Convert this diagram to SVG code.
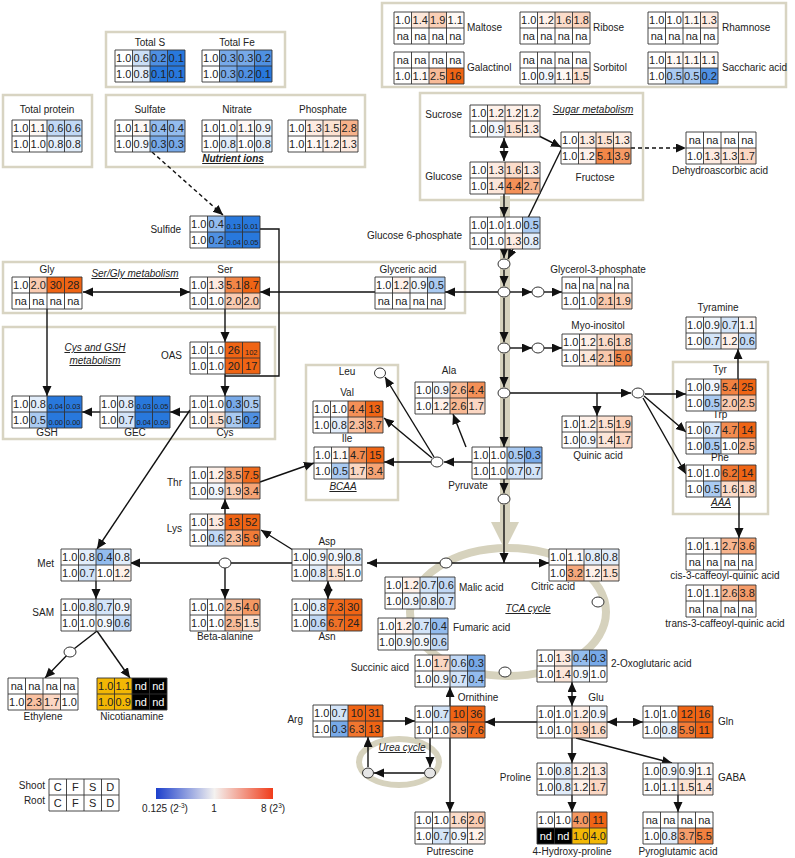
<svg xmlns="http://www.w3.org/2000/svg" xmlns:xlink="http://www.w3.org/1999/xlink" width="795" height="858" viewBox="0 0 795 858">
<style>
text{font-family:"Liberation Sans",Arial,sans-serif;fill:#222}
.v{font-size:11px;text-anchor:middle}
.s{font-size:7.5px}
.l{font-size:10px;text-anchor:middle}
.e{text-anchor:end}
.st{text-anchor:start}
.i{font-style:italic;text-decoration:underline}
.box{fill:#fff;stroke:#d8d4c2;stroke-width:2.5}
.ln{fill:none;stroke:#111;stroke-width:1.4}
.arr{marker-end:url(#ah)}
.dbl{marker-end:url(#ah);marker-start:url(#ah)}
.dash{stroke-dasharray:4 3}
.nd{fill:#fff;stroke:#333;stroke-width:1}
.beige{fill:none;stroke:#d6d2bd}
.w{fill:#fff}
</style>
<defs>
<marker id="ah" markerUnits="userSpaceOnUse" markerWidth="11" markerHeight="10" refX="10" refY="4.5" orient="auto-start-reverse"><path d="M0,0L10,4.5L0,9z" fill="#111"/></marker>
<path id="grid" d="M0,0h70v32h-70z M17.5,0v32 M35,0v32 M52.5,0v32 M0,16h70" fill="none" stroke="#333" stroke-width="0.9"/>
<linearGradient id="cbar" x1="0" x2="1" y1="0" y2="0"><stop offset="0" stop-color="#1c3fcc"/><stop offset="0.5" stop-color="#f4f2f0"/><stop offset="1" stop-color="#f03c1a"/></linearGradient>
</defs>
<rect width="795" height="858" fill="#fff"/>

<!-- boxes -->
<g id="boxes">
<rect class="box" x="106" y="32" width="179" height="55"/>
<rect class="box" x="3" y="95" width="89" height="72"/>
<rect class="box" x="106" y="95" width="259" height="72"/>
<rect class="box" x="382" y="3" width="404" height="84"/>
<rect class="box" x="420" y="93" width="223" height="107"/>
<rect class="box" x="3" y="262" width="462" height="51"/>
<rect class="box" x="3" y="327" width="272" height="112"/>
<rect class="box" x="306" y="365" width="92" height="135"/>
<rect class="box" x="673" y="362" width="95" height="152"/>
</g>

<!-- beige pathways -->
<g id="beige">
<line class="beige" x1="505" y1="196" x2="505" y2="526" stroke-width="10"/>
<path d="M491,522L519,522L505,550z" fill="#d6d2bd"/>
<ellipse class="beige" cx="508" cy="612" rx="98" ry="64" stroke-width="8"/>
<ellipse class="beige" cx="399" cy="762" rx="40" ry="23" stroke-width="6"/>
</g>

<!-- connectors -->
<g id="connectors">
<line class="ln arr dash" x1="152" y1="152" x2="223" y2="215"/>
<line class="ln dbl" x1="504" y1="138" x2="504" y2="161"/>
<line class="ln arr" x1="533" y1="133" x2="561" y2="147"/>
<line class="ln arr dash" x1="631" y1="148" x2="686" y2="148"/>
<line class="ln arr" x1="504" y1="194" x2="504" y2="217"/>
<line class="ln arr" x1="561" y1="150" x2="508" y2="259"/>
<line class="ln arr" x1="504" y1="249" x2="504" y2="258"/>
<line class="ln arr" x1="504" y1="270" x2="504" y2="286"/>
<line class="ln arr" x1="498" y1="292" x2="445" y2="292"/>
<line class="ln arr" x1="510" y1="292" x2="532" y2="292"/>
<line class="ln arr" x1="544" y1="292" x2="562" y2="292"/>
<line class="ln arr" x1="375" y1="292" x2="260" y2="292"/>
<line class="ln dbl" x1="83" y1="292" x2="190" y2="292"/>
<line class="ln arr" x1="225" y1="309" x2="225" y2="342"/>
<polyline class="ln" points="260,229 279,229 279,376 225,376"/>
<line class="ln arr" x1="225" y1="374" x2="225" y2="396"/>
<line class="ln arr" x1="190" y1="412" x2="170" y2="412"/>
<line class="ln arr" x1="100" y1="412" x2="82" y2="412"/>
<line class="ln arr" x1="47" y1="309" x2="47" y2="396"/>
<line class="ln arr" x1="190" y1="410" x2="97" y2="549"/>
<line class="ln arr" x1="504" y1="298" x2="504" y2="342"/>
<line class="ln arr" x1="510" y1="348" x2="532" y2="348"/>
<line class="ln arr" x1="544" y1="348" x2="562" y2="348"/>
<line class="ln arr" x1="504" y1="354" x2="504" y2="387"/>
<line class="ln arr" x1="510" y1="393" x2="631" y2="393"/>
<line class="ln arr" x1="597" y1="393" x2="597" y2="416"/>
<line class="ln arr" x1="645" y1="394" x2="686" y2="394"/>
<line class="ln arr" x1="644" y1="396" x2="686" y2="432"/>
<line class="ln arr" x1="643" y1="398" x2="686" y2="474"/>
<line class="ln arr" x1="738" y1="379" x2="738" y2="349"/>
<line class="ln arr" x1="739" y1="497" x2="739" y2="538"/>
<line class="ln arr" x1="504" y1="399" x2="504" y2="447"/>
<line class="ln arr" x1="472" y1="462" x2="444" y2="462"/>
<line class="ln arr" x1="431" y1="462" x2="384" y2="462"/>
<line class="ln arr" x1="432" y1="458" x2="384" y2="418"/>
<line class="ln arr" x1="434" y1="457" x2="385" y2="377"/>
<line class="ln arr" x1="466" y1="447" x2="453" y2="414"/>
<line class="ln arr" x1="260" y1="482" x2="314" y2="463"/>
<line class="ln arr" x1="225" y1="514" x2="225" y2="499"/>
<line class="ln arr" x1="293" y1="550" x2="261" y2="530"/>
<line class="ln arr" x1="504" y1="479" x2="504" y2="493"/>
<line class="ln arr" x1="504" y1="505" x2="504" y2="563"/>
<line class="ln dbl" x1="367" y1="563" x2="549" y2="563"/>
<line class="ln arr" x1="292" y1="563" x2="130" y2="563"/>
<line class="ln arr" x1="225" y1="563" x2="225" y2="599"/>
<line class="ln dbl" x1="328" y1="581" x2="328" y2="599"/>
<line class="ln arr" x1="96" y1="581" x2="96" y2="599"/>
<polyline class="ln arr" points="97,631 70,652 45,678"/>
<line class="ln arr" x1="97" y1="631" x2="130" y2="678"/>
<line class="ln arr" x1="450" y1="706" x2="450" y2="687"/>
<line class="ln dbl" x1="572" y1="682" x2="572" y2="706"/>
<line class="ln arr" x1="537" y1="722" x2="485" y2="722"/>
<line class="ln dbl" x1="607" y1="722" x2="643" y2="722"/>
<line class="ln arr" x1="383" y1="721" x2="415" y2="721"/>
<line class="ln arr" x1="430" y1="738" x2="430" y2="767"/>
<line class="ln arr" x1="424" y1="773" x2="374" y2="773"/>
<line class="ln arr" x1="368" y1="767" x2="368" y2="737"/>
<line class="ln arr" x1="450" y1="738" x2="450" y2="812"/>
<line class="ln arr" x1="572" y1="738" x2="572" y2="763"/>
<line class="ln arr" x1="576" y1="738" x2="672" y2="763"/>
<line class="ln arr" x1="572" y1="795" x2="572" y2="812"/>
<line class="ln arr" x1="678" y1="795" x2="678" y2="812"/>
</g>

<!-- small nodes -->
<g id="junctions">
<ellipse class="nd" cx="504" cy="264" rx="6" ry="5"/>
<ellipse class="nd" cx="504" cy="292" rx="6" ry="5"/>
<ellipse class="nd" cx="538" cy="292" rx="6" ry="5"/>
<ellipse class="nd" cx="504" cy="348" rx="6" ry="5"/>
<ellipse class="nd" cx="538" cy="348" rx="6" ry="5"/>
<ellipse class="nd" cx="504" cy="393" rx="6" ry="5"/>
<ellipse class="nd" cx="638" cy="393" rx="6" ry="5"/>
<ellipse class="nd" cx="437" cy="462" rx="6" ry="5"/>
<ellipse class="nd" cx="380" cy="373" rx="5.5" ry="5"/>
<ellipse class="nd" cx="504" cy="499" rx="6" ry="5"/>
<ellipse class="nd" cx="446" cy="563" rx="6" ry="5"/>
<ellipse class="nd" cx="598" cy="602" rx="6" ry="5"/>
<ellipse class="nd" cx="505" cy="672" rx="6" ry="5"/>
<ellipse class="nd" cx="225" cy="563" rx="6" ry="5"/>
<ellipse class="nd" cx="70" cy="652" rx="6" ry="5"/>
<ellipse class="nd" cx="368" cy="773" rx="5.5" ry="5" style="fill:#e6e6e6"/>
<ellipse class="nd" cx="430" cy="773" rx="5.5" ry="5" style="fill:#e6e6e6"/>
</g>

<!-- section labels -->
<g id="section-labels">
<text class="l i" x="233" y="162" font-weight="bold" font-size="9.5">Nutrient ions</text>
<text class="l i" x="593" y="113">Sugar metabolism</text>
<text class="l i" x="135" y="277">Ser/Gly metabolism</text>
<text class="l i" x="95" y="351">Cys and GSH</text>
<text class="l i" x="95" y="364">metabolism</text>
<text class="l i" x="343" y="490">BCAA</text>
<text class="l i" x="721" y="506">AAA</text>
<text class="l i" x="528" y="612">TCA cycle</text>
<text class="l i" x="402" y="751">Urea cycle</text>
</g>

<!-- nodes -->
<g id="totalS" transform="translate(115,50)"><rect width="70" height="32" class="w"/><rect x="17.5" width="17.5" height="16" fill="#cadef6"/><rect x="35" width="17.5" height="16" fill="#4f90e2"/><rect x="52.5" width="17.5" height="16" fill="#2878dc"/><rect x="17.5" y="16" width="17.5" height="16" fill="#e2edfa"/><rect x="35" y="16" width="35" height="16" fill="#2878dc"/><use href="#grid"/>
<text class="v" y="12"><tspan x="8.75">1.0</tspan><tspan x="26.25">0.6</tspan><tspan x="43.75">0.2</tspan><tspan x="61.25">0.1</tspan></text><text class="v" y="28"><tspan x="8.75">1.0</tspan><tspan x="26.25">0.8</tspan><tspan x="43.75">0.1</tspan><tspan x="61.25">0.1</tspan></text>
<text class="l" x="35" y="-4">Total S</text></g>

<g id="totalFe" transform="translate(202,50)"><rect width="70" height="32" class="w"/><rect x="17.5" width="35" height="16" fill="#77a9e8"/><rect x="52.5" width="17.5" height="16" fill="#4f90e2"/><rect x="17.5" y="16" width="17.5" height="16" fill="#77a9e8"/><rect x="35" y="16" width="17.5" height="16" fill="#4f90e2"/><rect x="52.5" y="16" width="17.5" height="16" fill="#2878dc"/><use href="#grid"/>
<text class="v" y="12"><tspan x="8.75">1.0</tspan><tspan x="26.25">0.3</tspan><tspan x="43.75">0.3</tspan><tspan x="61.25">0.2</tspan></text><text class="v" y="28"><tspan x="8.75">1.0</tspan><tspan x="26.25">0.3</tspan><tspan x="43.75">0.2</tspan><tspan x="61.25">0.1</tspan></text>
<text class="l" x="35" y="-4">Total Fe</text></g>

<g id="totalProtein" transform="translate(12,120)"><rect width="70" height="32" class="w"/><rect x="17.5" width="17.5" height="16" fill="#fef8f4"/><rect x="35" width="35" height="16" fill="#c1d8f5"/><rect x="35" y="16" width="35" height="16" fill="#e2edfa"/><use href="#grid"/>
<text class="v" y="12"><tspan x="8.75">1.0</tspan><tspan x="26.25">1.1</tspan><tspan x="43.75">0.6</tspan><tspan x="61.25">0.6</tspan></text><text class="v" y="28"><tspan x="8.75">1.0</tspan><tspan x="26.25">1.0</tspan><tspan x="43.75">0.8</tspan><tspan x="61.25">0.8</tspan></text>
<text class="l" x="35" y="-7">Total protein</text></g>

<g id="sulfate" transform="translate(115,120)"><rect width="70" height="32" class="w"/><rect x="17.5" width="17.5" height="16" fill="#fef8f4"/><rect x="35" width="35" height="16" fill="#93bcee"/><rect x="17.5" y="16" width="17.5" height="16" fill="#f1f6fc"/><rect x="35" y="16" width="35" height="16" fill="#77a9e8"/><use href="#grid"/>
<text class="v" y="12"><tspan x="8.75">1.0</tspan><tspan x="26.25">1.1</tspan><tspan x="43.75">0.4</tspan><tspan x="61.25">0.4</tspan></text><text class="v" y="28"><tspan x="8.75">1.0</tspan><tspan x="26.25">0.9</tspan><tspan x="43.75">0.3</tspan><tspan x="61.25">0.3</tspan></text>
<text class="l" x="35" y="-7">Sulfate</text></g>

<g id="nitrate" transform="translate(202,120)"><rect width="70" height="32" class="w"/><rect x="35" width="17.5" height="16" fill="#fef8f4"/><rect x="52.5" width="17.5" height="16" fill="#f1f6fc"/><rect x="17.5" y="16" width="17.5" height="16" fill="#e2edfa"/><rect x="52.5" y="16" width="17.5" height="16" fill="#e2edfa"/><use href="#grid"/>
<text class="v" y="12"><tspan x="8.75">1.0</tspan><tspan x="26.25">1.0</tspan><tspan x="43.75">1.1</tspan><tspan x="61.25">0.9</tspan></text><text class="v" y="28"><tspan x="8.75">1.0</tspan><tspan x="26.25">0.8</tspan><tspan x="43.75">1.0</tspan><tspan x="61.25">0.8</tspan></text>
<text class="l" x="35" y="-7">Nitrate</text></g>

<g id="phosphate" transform="translate(288,120)"><rect width="70" height="32" class="w"/><rect x="17.5" width="17.5" height="16" fill="#fdebe1"/><rect x="35" width="17.5" height="16" fill="#fce1d1"/><rect x="52.5" width="17.5" height="16" fill="#f7b28b"/><rect x="17.5" y="16" width="17.5" height="16" fill="#fef8f4"/><rect x="35" y="16" width="17.5" height="16" fill="#fef1ea"/><rect x="52.5" y="16" width="17.5" height="16" fill="#fdebe1"/><use href="#grid"/>
<text class="v" y="12"><tspan x="8.75">1.0</tspan><tspan x="26.25">1.3</tspan><tspan x="43.75">1.5</tspan><tspan x="61.25">2.8</tspan></text><text class="v" y="28"><tspan x="8.75">1.0</tspan><tspan x="26.25">1.1</tspan><tspan x="43.75">1.2</tspan><tspan x="61.25">1.3</tspan></text>
<text class="l" x="35" y="-7">Phosphate</text></g>

<g id="maltose" transform="translate(394,12)"><rect width="70" height="32" class="w"/><rect x="17.5" width="17.5" height="16" fill="#fce6d9"/><rect x="35" width="17.5" height="16" fill="#facfb6"/><rect x="52.5" width="17.5" height="16" fill="#fef8f4"/><use href="#grid"/>
<text class="v" y="12"><tspan x="8.75">1.0</tspan><tspan x="26.25">1.4</tspan><tspan x="43.75">1.9</tspan><tspan x="61.25">1.1</tspan></text><text class="v" y="28"><tspan x="8.75">na</tspan><tspan x="26.25">na</tspan><tspan x="43.75">na</tspan><tspan x="61.25">na</tspan></text>
<text class="l st" x="73" y="19">Maltose</text></g>

<g id="ribose" transform="translate(520,12)"><rect width="70" height="32" class="w"/><rect x="17.5" width="17.5" height="16" fill="#fef1ea"/><rect x="35" width="17.5" height="16" fill="#fbdcca"/><rect x="52.5" width="17.5" height="16" fill="#fad3bd"/><use href="#grid"/>
<text class="v" y="12"><tspan x="8.75">1.0</tspan><tspan x="26.25">1.2</tspan><tspan x="43.75">1.6</tspan><tspan x="61.25">1.8</tspan></text><text class="v" y="28"><tspan x="8.75">na</tspan><tspan x="26.25">na</tspan><tspan x="43.75">na</tspan><tspan x="61.25">na</tspan></text>
<text class="l st" x="73" y="19">Ribose</text></g>

<g id="rhamnose" transform="translate(648,12)"><rect width="70" height="32" class="w"/><rect x="35" width="17.5" height="16" fill="#fef8f4"/><rect x="52.5" width="17.5" height="16" fill="#fdebe1"/><use href="#grid"/>
<text class="v" y="12"><tspan x="8.75">1.0</tspan><tspan x="26.25">1.0</tspan><tspan x="43.75">1.1</tspan><tspan x="61.25">1.3</tspan></text><text class="v" y="28"><tspan x="8.75">na</tspan><tspan x="26.25">na</tspan><tspan x="43.75">na</tspan><tspan x="61.25">na</tspan></text>
<text class="l st" x="74" y="19">Rhamnose</text></g>

<g id="galactinol" transform="translate(394,52)"><rect width="70" height="32" class="w"/><rect x="17.5" y="16" width="17.5" height="16" fill="#fef8f4"/><rect x="35" y="16" width="17.5" height="16" fill="#f8bb98"/><rect x="52.5" y="16" width="17.5" height="16" fill="#ef6414"/><use href="#grid"/>
<text class="v" y="12"><tspan x="8.75">na</tspan><tspan x="26.25">na</tspan><tspan x="43.75">na</tspan><tspan x="61.25">na</tspan></text><text class="v" y="28"><tspan x="8.75">1.0</tspan><tspan x="26.25">1.1</tspan><tspan x="43.75">2.5</tspan><tspan x="61.25">16</tspan></text>
<text class="l st" x="73" y="19">Galactinol</text></g>

<g id="sorbitol" transform="translate(520,52)"><rect width="70" height="32" class="w"/><rect x="17.5" y="16" width="17.5" height="16" fill="#f1f6fc"/><rect x="35" y="16" width="17.5" height="16" fill="#fef8f4"/><rect x="52.5" y="16" width="17.5" height="16" fill="#fce1d1"/><use href="#grid"/>
<text class="v" y="12"><tspan x="8.75">na</tspan><tspan x="26.25">na</tspan><tspan x="43.75">na</tspan><tspan x="61.25">na</tspan></text><text class="v" y="28"><tspan x="8.75">1.0</tspan><tspan x="26.25">0.9</tspan><tspan x="43.75">1.1</tspan><tspan x="61.25">1.5</tspan></text>
<text class="l st" x="73" y="19">Sorbitol</text></g>

<g id="saccharic" transform="translate(648,52)"><rect width="70" height="32" class="w"/><rect x="17.5" width="52.5" height="16" fill="#fef8f4"/><rect x="17.5" y="16" width="35" height="16" fill="#aacaf1"/><rect x="52.5" y="16" width="17.5" height="16" fill="#4f90e2"/><use href="#grid"/>
<text class="v" y="12"><tspan x="8.75">1.0</tspan><tspan x="26.25">1.1</tspan><tspan x="43.75">1.1</tspan><tspan x="61.25">1.1</tspan></text><text class="v" y="28"><tspan x="8.75">1.0</tspan><tspan x="26.25">0.5</tspan><tspan x="43.75">0.5</tspan><tspan x="61.25">0.2</tspan></text>
<text class="l st" x="74" y="19">Saccharic acid</text></g>

<g id="sucrose" transform="translate(470,105)"><rect width="70" height="32" class="w"/><rect x="17.5" width="52.5" height="16" fill="#fef1ea"/><rect x="17.5" y="16" width="17.5" height="16" fill="#f1f6fc"/><rect x="35" y="16" width="17.5" height="16" fill="#fce1d1"/><rect x="52.5" y="16" width="17.5" height="16" fill="#fdebe1"/><use href="#grid"/>
<text class="v" y="12"><tspan x="8.75">1.0</tspan><tspan x="26.25">1.2</tspan><tspan x="43.75">1.2</tspan><tspan x="61.25">1.2</tspan></text><text class="v" y="28"><tspan x="8.75">1.0</tspan><tspan x="26.25">0.9</tspan><tspan x="43.75">1.5</tspan><tspan x="61.25">1.3</tspan></text>
<text class="l e" x="-8" y="13">Sucrose</text></g>

<g id="glucose" transform="translate(470,162)"><rect width="70" height="32" class="w"/><rect x="17.5" width="17.5" height="16" fill="#fdebe1"/><rect x="35" width="17.5" height="16" fill="#fbdcca"/><rect x="52.5" width="17.5" height="16" fill="#fdebe1"/><rect x="17.5" y="16" width="17.5" height="16" fill="#fce6d9"/><rect x="35" y="16" width="17.5" height="16" fill="#f49057"/><rect x="52.5" y="16" width="17.5" height="16" fill="#f7b58f"/><use href="#grid"/>
<text class="v" y="12"><tspan x="8.75">1.0</tspan><tspan x="26.25">1.3</tspan><tspan x="43.75">1.6</tspan><tspan x="61.25">1.3</tspan></text><text class="v" y="28"><tspan x="8.75">1.0</tspan><tspan x="26.25">1.4</tspan><tspan x="43.75">4.4</tspan><tspan x="61.25">2.7</tspan></text>
<text class="l e" x="-8" y="18">Glucose</text></g>

<g id="fructose" transform="translate(561,132)"><rect width="70" height="32" class="w"/><rect x="17.5" width="17.5" height="16" fill="#fdebe1"/><rect x="35" width="17.5" height="16" fill="#fce1d1"/><rect x="52.5" width="17.5" height="16" fill="#fdebe1"/><rect x="17.5" y="16" width="17.5" height="16" fill="#fef1ea"/><rect x="35" y="16" width="17.5" height="16" fill="#f28647"/><rect x="52.5" y="16" width="17.5" height="16" fill="#f59a65"/><use href="#grid"/>
<text class="v" y="12"><tspan x="8.75">1.0</tspan><tspan x="26.25">1.3</tspan><tspan x="43.75">1.5</tspan><tspan x="61.25">1.3</tspan></text><text class="v" y="28"><tspan x="8.75">1.0</tspan><tspan x="26.25">1.2</tspan><tspan x="43.75">5.1</tspan><tspan x="61.25">3.9</tspan></text>
<text class="l" x="34" y="49">Fructose</text></g>

<g id="dehydroascorbic" transform="translate(686,132)"><rect width="70" height="32" class="w"/><rect x="17.5" y="16" width="35" height="16" fill="#fdebe1"/><rect x="52.5" y="16" width="17.5" height="16" fill="#fbd7c3"/><use href="#grid"/>
<text class="v" y="12"><tspan x="8.75">na</tspan><tspan x="26.25">na</tspan><tspan x="43.75">na</tspan><tspan x="61.25">na</tspan></text><text class="v" y="28"><tspan x="8.75">1.0</tspan><tspan x="26.25">1.3</tspan><tspan x="43.75">1.3</tspan><tspan x="61.25">1.7</tspan></text>
<text class="l" x="34" y="42">Dehydroascorbic acid</text></g>

<g id="g6p" transform="translate(470,217)"><rect width="70" height="32" class="w"/><rect x="52.5" width="17.5" height="16" fill="#aacaf1"/><rect x="35" y="16" width="17.5" height="16" fill="#fdebe1"/><rect x="52.5" y="16" width="17.5" height="16" fill="#e2edfa"/><use href="#grid"/>
<text class="v" y="12"><tspan x="8.75">1.0</tspan><tspan x="26.25">1.0</tspan><tspan x="43.75">1.0</tspan><tspan x="61.25">0.5</tspan></text><text class="v" y="28"><tspan x="8.75">1.0</tspan><tspan x="26.25">1.0</tspan><tspan x="43.75">1.3</tspan><tspan x="61.25">0.8</tspan></text>
<text class="l e" x="-8" y="22">Glucose 6-phosphate</text></g>

<g id="sulfide" transform="translate(190,216)"><rect width="70" height="32" class="w"/><rect x="17.5" width="17.5" height="16" fill="#93bcee"/><rect x="35" width="35" height="16" fill="#2878dc"/><rect x="17.5" y="16" width="17.5" height="16" fill="#4f90e2"/><rect x="35" y="16" width="35" height="16" fill="#2878dc"/><use href="#grid"/>
<text class="v" y="12"><tspan x="8.75">1.0</tspan><tspan x="26.25">0.4</tspan><tspan class="s" x="43.75" y="12.5">0.13</tspan><tspan class="s" x="61.25">0.01</tspan></text><text class="v" y="28"><tspan x="8.75">1.0</tspan><tspan x="26.25">0.2</tspan><tspan class="s" x="43.75" y="28.5">0.04</tspan><tspan class="s" x="61.25">0.05</tspan></text>
<text class="l e" x="-9" y="17">Sulfide</text></g>

<g id="gly" transform="translate(12,277)"><rect width="70" height="32" class="w"/><rect x="17.5" width="17.5" height="16" fill="#facbb1"/><rect x="35" width="35" height="16" fill="#ef6414"/><use href="#grid"/>
<text class="v" y="12"><tspan x="8.75">1.0</tspan><tspan x="26.25">2.0</tspan><tspan x="43.75">30</tspan><tspan x="61.25">28</tspan></text><text class="v" y="28"><tspan x="8.75">na</tspan><tspan x="26.25">na</tspan><tspan x="43.75">na</tspan><tspan x="61.25">na</tspan></text>
<text class="l" x="35" y="-4">Gly</text></g>

<g id="ser" transform="translate(190,277)"><rect width="70" height="32" class="w"/><rect x="17.5" width="17.5" height="16" fill="#fdebe1"/><rect x="35" width="17.5" height="16" fill="#f28647"/><rect x="52.5" width="17.5" height="16" fill="#ef6414"/><rect x="35" y="16" width="35" height="16" fill="#facbb1"/><use href="#grid"/>
<text class="v" y="12"><tspan x="8.75">1.0</tspan><tspan x="26.25">1.3</tspan><tspan x="43.75">5.1</tspan><tspan x="61.25">8.7</tspan></text><text class="v" y="28"><tspan x="8.75">1.0</tspan><tspan x="26.25">1.0</tspan><tspan x="43.75">2.0</tspan><tspan x="61.25">2.0</tspan></text>
<text class="l" x="35" y="-4">Ser</text></g>

<g id="glyceric" transform="translate(375,277)"><rect width="70" height="32" class="w"/><rect x="17.5" width="17.5" height="16" fill="#fef1ea"/><rect x="35" width="17.5" height="16" fill="#f1f6fc"/><rect x="52.5" width="17.5" height="16" fill="#aacaf1"/><use href="#grid"/>
<text class="v" y="12"><tspan x="8.75">1.0</tspan><tspan x="26.25">1.2</tspan><tspan x="43.75">0.9</tspan><tspan x="61.25">0.5</tspan></text><text class="v" y="28"><tspan x="8.75">na</tspan><tspan x="26.25">na</tspan><tspan x="43.75">na</tspan><tspan x="61.25">na</tspan></text>
<text class="l" x="33" y="-4">Glyceric acid</text></g>

<g id="oas" transform="translate(190,342)"><rect width="70" height="32" class="w"/><rect x="35" width="35" height="32" fill="#ef6414"/><use href="#grid"/>
<text class="v" y="12"><tspan x="8.75">1.0</tspan><tspan x="26.25">1.0</tspan><tspan x="43.75">26</tspan><tspan class="s" x="61.25" y="12.5">102</tspan></text><text class="v" y="28"><tspan x="8.75">1.0</tspan><tspan x="26.25">1.0</tspan><tspan x="43.75">20</tspan><tspan x="61.25">17</tspan></text>
<text class="l e" x="-8" y="17">OAS</text></g>

<g id="gsh" transform="translate(12,396)"><rect width="70" height="32" class="w"/><rect x="17.5" width="17.5" height="16" fill="#e2edfa"/><rect x="35" width="35" height="32" fill="#2878dc"/><rect x="17.5" y="16" width="17.5" height="16" fill="#aacaf1"/><use href="#grid"/>
<text class="v" y="12"><tspan x="8.75">1.0</tspan><tspan x="26.25">0.8</tspan><tspan class="s" x="43.75" y="12.5">0.04</tspan><tspan class="s" x="61.25">0.03</tspan></text><text class="v" y="28"><tspan x="8.75">1.0</tspan><tspan x="26.25">0.5</tspan><tspan class="s" x="43.75" y="28.5">0.00</tspan><tspan class="s" x="61.25">0.00</tspan></text>
<text class="l" x="35" y="40">GSH</text></g>

<g id="gec" transform="translate(100,396)"><rect width="70" height="32" class="w"/><rect x="17.5" width="17.5" height="16" fill="#e2edfa"/><rect x="35" width="35" height="32" fill="#2878dc"/><rect x="17.5" y="16" width="17.5" height="16" fill="#d3e4f8"/><use href="#grid"/>
<text class="v" y="12"><tspan x="8.75">1.0</tspan><tspan x="26.25">0.8</tspan><tspan class="s" x="43.75" y="12.5">0.03</tspan><tspan class="s" x="61.25">0.05</tspan></text><text class="v" y="28"><tspan x="8.75">1.0</tspan><tspan x="26.25">0.7</tspan><tspan class="s" x="43.75" y="28.5">0.04</tspan><tspan class="s" x="61.25">0.09</tspan></text>
<text class="l" x="35" y="40">GEC</text></g>

<g id="cys" transform="translate(190,396)"><rect width="70" height="32" class="w"/><rect x="35" width="17.5" height="16" fill="#77a9e8"/><rect x="52.5" width="17.5" height="16" fill="#aacaf1"/><rect x="17.5" y="16" width="17.5" height="16" fill="#fce1d1"/><rect x="35" y="16" width="17.5" height="16" fill="#aacaf1"/><rect x="52.5" y="16" width="17.5" height="16" fill="#4f90e2"/><use href="#grid"/>
<text class="v" y="12"><tspan x="8.75">1.0</tspan><tspan x="26.25">1.0</tspan><tspan x="43.75">0.3</tspan><tspan x="61.25">0.5</tspan></text><text class="v" y="28"><tspan x="8.75">1.0</tspan><tspan x="26.25">1.5</tspan><tspan x="43.75">0.5</tspan><tspan x="61.25">0.2</tspan></text>
<text class="l" x="35" y="40">Cys</text></g>

<g id="g3p" transform="translate(562,277)"><rect width="70" height="32" class="w"/><rect x="35" y="16" width="17.5" height="16" fill="#f9c8ab"/><rect x="52.5" y="16" width="17.5" height="16" fill="#facfb6"/><use href="#grid"/>
<text class="v" y="12"><tspan x="8.75">na</tspan><tspan x="26.25">na</tspan><tspan x="43.75">na</tspan><tspan x="61.25">na</tspan></text><text class="v" y="28"><tspan x="8.75">1.0</tspan><tspan x="26.25">1.0</tspan><tspan x="43.75">2.1</tspan><tspan x="61.25">1.9</tspan></text>
<text class="l" x="36" y="-4">Glycerol-3-phosphate</text></g>

<g id="myoinositol" transform="translate(562,334)"><rect width="70" height="32" class="w"/><rect x="17.5" width="17.5" height="16" fill="#fef1ea"/><rect x="35" width="17.5" height="16" fill="#fbdcca"/><rect x="52.5" width="17.5" height="16" fill="#fad3bd"/><rect x="17.5" y="16" width="17.5" height="16" fill="#fce6d9"/><rect x="35" y="16" width="17.5" height="16" fill="#f9c8ab"/><rect x="52.5" y="16" width="17.5" height="16" fill="#f38749"/><use href="#grid"/>
<text class="v" y="12"><tspan x="8.75">1.0</tspan><tspan x="26.25">1.2</tspan><tspan x="43.75">1.6</tspan><tspan x="61.25">1.8</tspan></text><text class="v" y="28"><tspan x="8.75">1.0</tspan><tspan x="26.25">1.4</tspan><tspan x="43.75">2.1</tspan><tspan x="61.25">5.0</tspan></text>
<text class="l" x="36" y="-5">Myo-inositol</text></g>

<g id="ala" transform="translate(415,382)"><rect width="70" height="32" class="w"/><rect x="17.5" width="17.5" height="16" fill="#f1f6fc"/><rect x="35" width="17.5" height="16" fill="#f8b893"/><rect x="52.5" width="17.5" height="16" fill="#f49057"/><rect x="17.5" y="16" width="17.5" height="16" fill="#fef1ea"/><rect x="35" y="16" width="17.5" height="16" fill="#f8b893"/><rect x="52.5" y="16" width="17.5" height="16" fill="#fbd7c3"/><use href="#grid"/>
<text class="v" y="12"><tspan x="8.75">1.0</tspan><tspan x="26.25">0.9</tspan><tspan x="43.75">2.6</tspan><tspan x="61.25">4.4</tspan></text><text class="v" y="28"><tspan x="8.75">1.0</tspan><tspan x="26.25">1.2</tspan><tspan x="43.75">2.6</tspan><tspan x="61.25">1.7</tspan></text>
<text class="l" x="34" y="-8">Ala</text></g>

<g id="leu"><text class="l" x="347" y="375">Leu</text></g>

<g id="val" transform="translate(313,401)"><rect width="70" height="32" class="w"/><rect x="35" width="17.5" height="16" fill="#f49057"/><rect x="52.5" width="17.5" height="16" fill="#ef6414"/><rect x="17.5" y="16" width="17.5" height="16" fill="#e2edfa"/><rect x="35" y="16" width="17.5" height="16" fill="#f9c1a1"/><rect x="52.5" y="16" width="17.5" height="16" fill="#f59d6b"/><use href="#grid"/>
<text class="v" y="12"><tspan x="8.75">1.0</tspan><tspan x="26.25">1.0</tspan><tspan x="43.75">4.4</tspan><tspan x="61.25">13</tspan></text><text class="v" y="28"><tspan x="8.75">1.0</tspan><tspan x="26.25">0.8</tspan><tspan x="43.75">2.3</tspan><tspan x="61.25">3.7</tspan></text>
<text class="l" x="34" y="-5">Val</text></g>

<g id="ile" transform="translate(314,447)"><rect width="70" height="32" class="w"/><rect x="17.5" width="17.5" height="16" fill="#fef8f4"/><rect x="35" width="17.5" height="16" fill="#f38c50"/><rect x="52.5" width="17.5" height="16" fill="#ef6414"/><rect x="17.5" y="16" width="17.5" height="16" fill="#aacaf1"/><rect x="35" y="16" width="17.5" height="16" fill="#fbd7c3"/><rect x="52.5" y="16" width="17.5" height="16" fill="#f6a475"/><use href="#grid"/>
<text class="v" y="12"><tspan x="8.75">1.0</tspan><tspan x="26.25">1.1</tspan><tspan x="43.75">4.7</tspan><tspan x="61.25">15</tspan></text><text class="v" y="28"><tspan x="8.75">1.0</tspan><tspan x="26.25">0.5</tspan><tspan x="43.75">1.7</tspan><tspan x="61.25">3.4</tspan></text>
<text class="l" x="33" y="-5">Ile</text></g>

<g id="quinic" transform="translate(562,416)"><rect width="70" height="32" class="w"/><rect x="17.5" width="17.5" height="16" fill="#fef1ea"/><rect x="35" width="17.5" height="16" fill="#fce1d1"/><rect x="52.5" width="17.5" height="16" fill="#facfb6"/><rect x="17.5" y="16" width="17.5" height="16" fill="#f1f6fc"/><rect x="35" y="16" width="17.5" height="16" fill="#fce6d9"/><rect x="52.5" y="16" width="17.5" height="16" fill="#fbd7c3"/><use href="#grid"/>
<text class="v" y="12"><tspan x="8.75">1.0</tspan><tspan x="26.25">1.2</tspan><tspan x="43.75">1.5</tspan><tspan x="61.25">1.9</tspan></text><text class="v" y="28"><tspan x="8.75">1.0</tspan><tspan x="26.25">0.9</tspan><tspan x="43.75">1.4</tspan><tspan x="61.25">1.7</tspan></text>
<text class="l" x="36" y="43">Quinic acid</text></g>

<g id="tyramine" transform="translate(686,317)"><rect width="70" height="32" class="w"/><rect x="17.5" width="17.5" height="16" fill="#f1f6fc"/><rect x="35" width="17.5" height="16" fill="#d3e4f8"/><rect x="52.5" width="17.5" height="16" fill="#fef8f4"/><rect x="17.5" y="16" width="17.5" height="16" fill="#d3e4f8"/><rect x="35" y="16" width="17.5" height="16" fill="#fef1ea"/><rect x="52.5" y="16" width="17.5" height="16" fill="#c1d8f5"/><use href="#grid"/>
<text class="v" y="12"><tspan x="8.75">1.0</tspan><tspan x="26.25">0.9</tspan><tspan x="43.75">0.7</tspan><tspan x="61.25">1.1</tspan></text><text class="v" y="28"><tspan x="8.75">1.0</tspan><tspan x="26.25">0.7</tspan><tspan x="43.75">1.2</tspan><tspan x="61.25">0.6</tspan></text>
<text class="l" x="32" y="-6">Tyramine</text></g>

<g id="trp-label"><text class="l" x="720" y="418">Trp</text></g>

<g id="tyr" transform="translate(686,379)"><rect width="70" height="32" class="w"/><rect x="17.5" width="17.5" height="16" fill="#f1f6fc"/><rect x="35" width="17.5" height="16" fill="#f28140"/><rect x="52.5" width="17.5" height="16" fill="#ef6414"/><rect x="17.5" y="16" width="17.5" height="16" fill="#aacaf1"/><rect x="35" y="16" width="17.5" height="16" fill="#facbb1"/><rect x="52.5" y="16" width="17.5" height="16" fill="#f8bb98"/><use href="#grid"/>
<text class="v" y="12"><tspan x="8.75">1.0</tspan><tspan x="26.25">0.9</tspan><tspan x="43.75">5.4</tspan><tspan x="61.25">25</tspan></text><text class="v" y="28"><tspan x="8.75">1.0</tspan><tspan x="26.25">0.5</tspan><tspan x="43.75">2.0</tspan><tspan x="61.25">2.5</tspan></text>
<text class="l" x="34" y="-6">Tyr</text></g>

<g id="trp" transform="translate(686,422)"><rect width="70" height="32" class="w"/><rect x="17.5" width="17.5" height="16" fill="#d3e4f8"/><rect x="35" width="17.5" height="16" fill="#f38c50"/><rect x="52.5" width="17.5" height="16" fill="#ef6414"/><rect x="17.5" y="16" width="17.5" height="16" fill="#aacaf1"/><rect x="52.5" y="16" width="17.5" height="16" fill="#f8bb98"/><use href="#grid"/>
<text class="v" y="12"><tspan x="8.75">1.0</tspan><tspan x="26.25">0.7</tspan><tspan x="43.75">4.7</tspan><tspan x="61.25">14</tspan></text><text class="v" y="28"><tspan x="8.75">1.0</tspan><tspan x="26.25">0.5</tspan><tspan x="43.75">1.0</tspan><tspan x="61.25">2.5</tspan></text></g>

<g id="phe" transform="translate(686,465)"><rect width="70" height="32" class="w"/><rect x="35" width="17.5" height="16" fill="#f17731"/><rect x="52.5" width="17.5" height="16" fill="#ef6414"/><rect x="17.5" y="16" width="17.5" height="16" fill="#aacaf1"/><rect x="35" y="16" width="17.5" height="16" fill="#fbdcca"/><rect x="52.5" y="16" width="17.5" height="16" fill="#fad3bd"/><use href="#grid"/>
<text class="v" y="12"><tspan x="8.75">1.0</tspan><tspan x="26.25">1.0</tspan><tspan x="43.75">6.2</tspan><tspan x="61.25">14</tspan></text><text class="v" y="28"><tspan x="8.75">1.0</tspan><tspan x="26.25">0.5</tspan><tspan x="43.75">1.6</tspan><tspan x="61.25">1.8</tspan></text>
<text class="l" x="34" y="-4">Phe</text></g>

<g id="thr" transform="translate(190,467)"><rect width="70" height="32" class="w"/><rect x="17.5" width="17.5" height="16" fill="#fef1ea"/><rect x="35" width="17.5" height="16" fill="#f5a272"/><rect x="52.5" width="17.5" height="16" fill="#ef691b"/><rect x="17.5" y="16" width="17.5" height="16" fill="#f1f6fc"/><rect x="35" y="16" width="17.5" height="16" fill="#facfb6"/><rect x="52.5" y="16" width="17.5" height="16" fill="#f6a475"/><use href="#grid"/>
<text class="v" y="12"><tspan x="8.75">1.0</tspan><tspan x="26.25">1.2</tspan><tspan x="43.75">3.5</tspan><tspan x="61.25">7.5</tspan></text><text class="v" y="28"><tspan x="8.75">1.0</tspan><tspan x="26.25">0.9</tspan><tspan x="43.75">1.9</tspan><tspan x="61.25">3.4</tspan></text>
<text class="l e" x="-8" y="19">Thr</text></g>

<g id="lys" transform="translate(190,514)"><rect width="70" height="32" class="w"/><rect x="17.5" width="17.5" height="16" fill="#fdebe1"/><rect x="35" width="35" height="16" fill="#ef6414"/><rect x="17.5" y="16" width="17.5" height="16" fill="#c1d8f5"/><rect x="35" y="16" width="17.5" height="16" fill="#f9c1a1"/><rect x="52.5" y="16" width="17.5" height="16" fill="#f17b37"/><use href="#grid"/>
<text class="v" y="12"><tspan x="8.75">1.0</tspan><tspan x="26.25">1.3</tspan><tspan x="43.75">13</tspan><tspan x="61.25">52</tspan></text><text class="v" y="28"><tspan x="8.75">1.0</tspan><tspan x="26.25">0.6</tspan><tspan x="43.75">2.3</tspan><tspan x="61.25">5.9</tspan></text>
<text class="l e" x="-8" y="18">Lys</text></g>

<g id="pyruvate" transform="translate(472,447)"><rect width="70" height="32" class="w"/><rect x="35" width="17.5" height="16" fill="#aacaf1"/><rect x="52.5" width="17.5" height="16" fill="#77a9e8"/><rect x="35" y="16" width="35" height="16" fill="#d3e4f8"/><use href="#grid"/>
<text class="v" y="12"><tspan x="8.75">1.0</tspan><tspan x="26.25">1.0</tspan><tspan x="43.75">0.5</tspan><tspan x="61.25">0.3</tspan></text><text class="v" y="28"><tspan x="8.75">1.0</tspan><tspan x="26.25">1.0</tspan><tspan x="43.75">0.7</tspan><tspan x="61.25">0.7</tspan></text>
<text class="l" x="-4" y="42">Pyruvate</text></g>

<g id="cis-caffeoyl" transform="translate(686,538)"><rect width="70" height="32" class="w"/><rect x="17.5" width="17.5" height="16" fill="#fef8f4"/><rect x="35" width="17.5" height="16" fill="#f7b58f"/><rect x="52.5" width="17.5" height="16" fill="#f5a06e"/><use href="#grid"/>
<text class="v" y="12"><tspan x="8.75">1.0</tspan><tspan x="26.25">1.1</tspan><tspan x="43.75">2.7</tspan><tspan x="61.25">3.6</tspan></text><text class="v" y="28"><tspan x="8.75">na</tspan><tspan x="26.25">na</tspan><tspan x="43.75">na</tspan><tspan x="61.25">na</tspan></text>
<text class="l" x="39" y="41">cis-3-caffeoyl-quinic acid</text></g>

<g id="trans-caffeoyl" transform="translate(686,585)"><rect width="70" height="32" class="w"/><rect x="17.5" width="17.5" height="16" fill="#fef8f4"/><rect x="35" width="17.5" height="16" fill="#f8b893"/><rect x="52.5" width="17.5" height="16" fill="#f59b68"/><use href="#grid"/>
<text class="v" y="12"><tspan x="8.75">1.0</tspan><tspan x="26.25">1.1</tspan><tspan x="43.75">2.6</tspan><tspan x="61.25">3.8</tspan></text><text class="v" y="28"><tspan x="8.75">na</tspan><tspan x="26.25">na</tspan><tspan x="43.75">na</tspan><tspan x="61.25">na</tspan></text>
<text class="l" x="39" y="42">trans-3-caffeoyl-quinic acid</text></g>

<g id="met" transform="translate(61,549)"><rect width="70" height="32" class="w"/><rect x="17.5" width="17.5" height="16" fill="#e2edfa"/><rect x="35" width="17.5" height="16" fill="#93bcee"/><rect x="52.5" width="17.5" height="16" fill="#e2edfa"/><rect x="17.5" y="16" width="17.5" height="16" fill="#d3e4f8"/><rect x="52.5" y="16" width="17.5" height="16" fill="#fef1ea"/><use href="#grid"/>
<text class="v" y="12"><tspan x="8.75">1.0</tspan><tspan x="26.25">0.8</tspan><tspan x="43.75">0.4</tspan><tspan x="61.25">0.8</tspan></text><text class="v" y="28"><tspan x="8.75">1.0</tspan><tspan x="26.25">0.7</tspan><tspan x="43.75">1.0</tspan><tspan x="61.25">1.2</tspan></text>
<text class="l e" x="-7" y="18">Met</text></g>

<g id="sam" transform="translate(61,599)"><rect width="70" height="32" class="w"/><rect x="17.5" width="17.5" height="16" fill="#e2edfa"/><rect x="35" width="17.5" height="16" fill="#d3e4f8"/><rect x="52.5" width="17.5" height="16" fill="#f1f6fc"/><rect x="35" y="16" width="17.5" height="16" fill="#f1f6fc"/><rect x="52.5" y="16" width="17.5" height="16" fill="#c1d8f5"/><use href="#grid"/>
<text class="v" y="12"><tspan x="8.75">1.0</tspan><tspan x="26.25">0.8</tspan><tspan x="43.75">0.7</tspan><tspan x="61.25">0.9</tspan></text><text class="v" y="28"><tspan x="8.75">1.0</tspan><tspan x="26.25">1.0</tspan><tspan x="43.75">0.9</tspan><tspan x="61.25">0.6</tspan></text>
<text class="l e" x="-7" y="17">SAM</text></g>

<g id="asp" transform="translate(292,549)"><rect width="70" height="32" class="w"/><rect x="17.5" width="35" height="16" fill="#f1f6fc"/><rect x="52.5" width="17.5" height="16" fill="#e2edfa"/><rect x="17.5" y="16" width="17.5" height="16" fill="#e2edfa"/><rect x="35" y="16" width="17.5" height="16" fill="#fce1d1"/><use href="#grid"/>
<text class="v" y="12"><tspan x="8.75">1.0</tspan><tspan x="26.25">0.9</tspan><tspan x="43.75">0.9</tspan><tspan x="61.25">0.8</tspan></text><text class="v" y="28"><tspan x="8.75">1.0</tspan><tspan x="26.25">0.8</tspan><tspan x="43.75">1.5</tspan><tspan x="61.25">1.0</tspan></text>
<text class="l" x="35" y="-4">Asp</text></g>

<g id="beta-alanine" transform="translate(190,599)"><rect width="70" height="32" class="w"/><rect x="35" width="17.5" height="16" fill="#f8bb98"/><rect x="52.5" width="17.5" height="16" fill="#f49862"/><rect x="35" y="16" width="17.5" height="16" fill="#f8bb98"/><rect x="52.5" y="16" width="17.5" height="16" fill="#fce1d1"/><use href="#grid"/>
<text class="v" y="12"><tspan x="8.75">1.0</tspan><tspan x="26.25">1.0</tspan><tspan x="43.75">2.5</tspan><tspan x="61.25">4.0</tspan></text><text class="v" y="28"><tspan x="8.75">1.0</tspan><tspan x="26.25">1.0</tspan><tspan x="43.75">2.5</tspan><tspan x="61.25">1.5</tspan></text>
<text class="l" x="35" y="41">Beta-alanine</text></g>

<g id="asn" transform="translate(292,599)"><rect width="70" height="32" class="w"/><rect x="17.5" width="17.5" height="16" fill="#e2edfa"/><rect x="35" width="17.5" height="16" fill="#f06b1e"/><rect x="52.5" width="17.5" height="32" fill="#ef6414"/><rect x="17.5" y="16" width="17.5" height="16" fill="#c1d8f5"/><rect x="35" y="16" width="17.5" height="16" fill="#f07128"/><use href="#grid"/>
<text class="v" y="12"><tspan x="8.75">1.0</tspan><tspan x="26.25">0.8</tspan><tspan x="43.75">7.3</tspan><tspan x="61.25">30</tspan></text><text class="v" y="28"><tspan x="8.75">1.0</tspan><tspan x="26.25">0.6</tspan><tspan x="43.75">6.7</tspan><tspan x="61.25">24</tspan></text>
<text class="l" x="35" y="41">Asn</text></g>

<g id="citric" transform="translate(549,549)"><rect width="70" height="32" class="w"/><rect x="17.5" width="17.5" height="16" fill="#fef8f4"/><rect x="35" width="35" height="16" fill="#e2edfa"/><rect x="17.5" y="16" width="17.5" height="16" fill="#f6a87c"/><rect x="35" y="16" width="17.5" height="16" fill="#fef1ea"/><rect x="52.5" y="16" width="17.5" height="16" fill="#fce1d1"/><use href="#grid"/>
<text class="v" y="12"><tspan x="8.75">1.0</tspan><tspan x="26.25">1.1</tspan><tspan x="43.75">0.8</tspan><tspan x="61.25">0.8</tspan></text><text class="v" y="28"><tspan x="8.75">1.0</tspan><tspan x="26.25">3.2</tspan><tspan x="43.75">1.2</tspan><tspan x="61.25">1.5</tspan></text>
<text class="l" x="4" y="41">Citric acid</text></g>

<g id="malic" transform="translate(385,577)"><rect width="70" height="32" class="w"/><rect x="17.5" width="17.5" height="16" fill="#fef1ea"/><rect x="35" width="17.5" height="16" fill="#d3e4f8"/><rect x="52.5" width="17.5" height="16" fill="#c1d8f5"/><rect x="17.5" y="16" width="17.5" height="16" fill="#f1f6fc"/><rect x="35" y="16" width="17.5" height="16" fill="#e2edfa"/><rect x="52.5" y="16" width="17.5" height="16" fill="#d3e4f8"/><use href="#grid"/>
<text class="v" y="12"><tspan x="8.75">1.0</tspan><tspan x="26.25">1.2</tspan><tspan x="43.75">0.7</tspan><tspan x="61.25">0.6</tspan></text><text class="v" y="28"><tspan x="8.75">1.0</tspan><tspan x="26.25">0.9</tspan><tspan x="43.75">0.8</tspan><tspan x="61.25">0.7</tspan></text>
<text class="l st" x="74" y="14">Malic acid</text></g>

<g id="fumaric" transform="translate(378,618)"><rect width="70" height="32" class="w"/><rect x="17.5" width="17.5" height="16" fill="#fef1ea"/><rect x="35" width="17.5" height="16" fill="#d3e4f8"/><rect x="52.5" width="17.5" height="16" fill="#93bcee"/><rect x="17.5" y="16" width="35" height="16" fill="#f1f6fc"/><rect x="52.5" y="16" width="17.5" height="16" fill="#c1d8f5"/><use href="#grid"/>
<text class="v" y="12"><tspan x="8.75">1.0</tspan><tspan x="26.25">1.2</tspan><tspan x="43.75">0.7</tspan><tspan x="61.25">0.4</tspan></text><text class="v" y="28"><tspan x="8.75">1.0</tspan><tspan x="26.25">0.9</tspan><tspan x="43.75">0.9</tspan><tspan x="61.25">0.6</tspan></text>
<text class="l st" x="75" y="13">Fumaric acid</text></g>

<g id="succinic" transform="translate(415,655)"><rect width="70" height="32" class="w"/><rect x="17.5" width="17.5" height="16" fill="#fbd7c3"/><rect x="35" width="17.5" height="16" fill="#c1d8f5"/><rect x="52.5" width="17.5" height="16" fill="#77a9e8"/><rect x="17.5" y="16" width="17.5" height="16" fill="#f1f6fc"/><rect x="35" y="16" width="17.5" height="16" fill="#d3e4f8"/><rect x="52.5" y="16" width="17.5" height="16" fill="#93bcee"/><use href="#grid"/>
<text class="v" y="12"><tspan x="8.75">1.0</tspan><tspan x="26.25">1.7</tspan><tspan x="43.75">0.6</tspan><tspan x="61.25">0.3</tspan></text><text class="v" y="28"><tspan x="8.75">1.0</tspan><tspan x="26.25">0.9</tspan><tspan x="43.75">0.7</tspan><tspan x="61.25">0.4</tspan></text>
<text class="l e" x="-6" y="16">Succinic aicd</text></g>

<g id="oxoglutaric" transform="translate(537,650)"><rect width="70" height="32" class="w"/><rect x="17.5" width="17.5" height="16" fill="#fdebe1"/><rect x="35" width="17.5" height="16" fill="#93bcee"/><rect x="52.5" width="17.5" height="16" fill="#77a9e8"/><rect x="17.5" y="16" width="17.5" height="16" fill="#fce6d9"/><rect x="35" y="16" width="17.5" height="16" fill="#f1f6fc"/><use href="#grid"/>
<text class="v" y="12"><tspan x="8.75">1.0</tspan><tspan x="26.25">1.3</tspan><tspan x="43.75">0.4</tspan><tspan x="61.25">0.3</tspan></text><text class="v" y="28"><tspan x="8.75">1.0</tspan><tspan x="26.25">1.4</tspan><tspan x="43.75">0.9</tspan><tspan x="61.25">1.0</tspan></text>
<text class="l st" x="74" y="17">2-Oxoglutaric acid</text></g>

<g id="ethylene" transform="translate(8,678)"><rect width="70" height="32" class="w"/><rect x="17.5" y="16" width="17.5" height="16" fill="#f9c1a1"/><rect x="35" y="16" width="17.5" height="16" fill="#fbd7c3"/><use href="#grid"/>
<text class="v" y="12"><tspan x="8.75">na</tspan><tspan x="26.25">na</tspan><tspan x="43.75">na</tspan><tspan x="61.25">na</tspan></text><text class="v" y="28"><tspan x="8.75">1.0</tspan><tspan x="26.25">2.3</tspan><tspan x="43.75">1.7</tspan><tspan x="61.25">1.0</tspan></text>
<text class="l" x="35" y="42">Ethylene</text></g>

<g id="nicotianamine" transform="translate(97,678)"><rect width="35" height="32" fill="#f2b705"/><rect x="35" width="35" height="32" fill="#000"/><use href="#grid"/>
<text class="v" y="12"><tspan x="8.75">1.0</tspan><tspan x="26.25">1.1</tspan><tspan x="43.75" style="fill:#fff">nd</tspan><tspan x="61.25" style="fill:#fff">nd</tspan></text><text class="v" y="28"><tspan x="8.75">1.0</tspan><tspan x="26.25">0.9</tspan><tspan x="43.75" style="fill:#fff">nd</tspan><tspan x="61.25" style="fill:#fff">nd</tspan></text>
<text class="l" x="35" y="42">Nicotianamine</text></g>

<g id="arg" transform="translate(313,705)"><rect width="70" height="32" class="w"/><rect x="17.5" width="17.5" height="16" fill="#d3e4f8"/><rect x="35" width="35" height="32" fill="#ef6414"/><rect x="17.5" y="16" width="17.5" height="16" fill="#77a9e8"/><rect x="35" y="16" width="17.5" height="16" fill="#f1762f"/><use href="#grid"/>
<text class="v" y="12"><tspan x="8.75">1.0</tspan><tspan x="26.25">0.7</tspan><tspan x="43.75">10</tspan><tspan x="61.25">31</tspan></text><text class="v" y="28"><tspan x="8.75">1.0</tspan><tspan x="26.25">0.3</tspan><tspan x="43.75">6.3</tspan><tspan x="61.25">13</tspan></text>
<text class="l e" x="-10" y="18">Arg</text></g>

<g id="ornithine" transform="translate(415,706)"><rect width="70" height="32" class="w"/><rect x="17.5" width="17.5" height="16" fill="#d3e4f8"/><rect x="35" width="35" height="16" fill="#ef6414"/><rect x="35" y="16" width="17.5" height="16" fill="#f59a65"/><rect x="52.5" y="16" width="17.5" height="16" fill="#ef681a"/><use href="#grid"/>
<text class="v" y="12"><tspan x="8.75">1.0</tspan><tspan x="26.25">0.7</tspan><tspan x="43.75">10</tspan><tspan x="61.25">36</tspan></text><text class="v" y="28"><tspan x="8.75">1.0</tspan><tspan x="26.25">1.0</tspan><tspan x="43.75">3.9</tspan><tspan x="61.25">7.6</tspan></text>
<text class="l" x="63" y="-5">Ornithine</text></g>

<g id="glu" transform="translate(537,706)"><rect width="70" height="32" class="w"/><rect x="35" width="17.5" height="16" fill="#fef1ea"/><rect x="52.5" width="17.5" height="16" fill="#f1f6fc"/><rect x="35" y="16" width="17.5" height="16" fill="#facfb6"/><rect x="52.5" y="16" width="17.5" height="16" fill="#fbdcca"/><use href="#grid"/>
<text class="v" y="12"><tspan x="8.75">1.0</tspan><tspan x="26.25">1.0</tspan><tspan x="43.75">1.2</tspan><tspan x="61.25">0.9</tspan></text><text class="v" y="28"><tspan x="8.75">1.0</tspan><tspan x="26.25">1.0</tspan><tspan x="43.75">1.9</tspan><tspan x="61.25">1.6</tspan></text>
<text class="l" x="59" y="-5">Glu</text></g>

<g id="gln" transform="translate(643,706)"><rect width="70" height="32" class="w"/><rect x="35" width="35" height="16" fill="#ef6414"/><rect x="17.5" y="16" width="17.5" height="16" fill="#e2edfa"/><rect x="35" y="16" width="17.5" height="16" fill="#f17b37"/><rect x="52.5" y="16" width="17.5" height="16" fill="#ef6414"/><use href="#grid"/>
<text class="v" y="12"><tspan x="8.75">1.0</tspan><tspan x="26.25">1.0</tspan><tspan x="43.75">12</tspan><tspan x="61.25">16</tspan></text><text class="v" y="28"><tspan x="8.75">1.0</tspan><tspan x="26.25">0.8</tspan><tspan x="43.75">5.9</tspan><tspan x="61.25">11</tspan></text>
<text class="l st" x="75" y="19">Gln</text></g>

<g id="proline" transform="translate(537,763)"><rect width="70" height="32" class="w"/><rect x="17.5" width="17.5" height="16" fill="#e2edfa"/><rect x="35" width="17.5" height="16" fill="#fef1ea"/><rect x="52.5" width="17.5" height="16" fill="#fdebe1"/><rect x="17.5" y="16" width="17.5" height="16" fill="#e2edfa"/><rect x="35" y="16" width="17.5" height="16" fill="#fef1ea"/><rect x="52.5" y="16" width="17.5" height="16" fill="#fbd7c3"/><use href="#grid"/>
<text class="v" y="12"><tspan x="8.75">1.0</tspan><tspan x="26.25">0.8</tspan><tspan x="43.75">1.2</tspan><tspan x="61.25">1.3</tspan></text><text class="v" y="28"><tspan x="8.75">1.0</tspan><tspan x="26.25">0.8</tspan><tspan x="43.75">1.2</tspan><tspan x="61.25">1.7</tspan></text>
<text class="l e" x="-6" y="18">Proline</text></g>

<g id="gaba" transform="translate(643,763)"><rect width="70" height="32" class="w"/><rect x="17.5" width="35" height="16" fill="#f1f6fc"/><rect x="52.5" width="17.5" height="16" fill="#fef8f4"/><rect x="17.5" y="16" width="17.5" height="16" fill="#fef8f4"/><rect x="35" y="16" width="17.5" height="16" fill="#fce1d1"/><rect x="52.5" y="16" width="17.5" height="16" fill="#fce6d9"/><use href="#grid"/>
<text class="v" y="12"><tspan x="8.75">1.0</tspan><tspan x="26.25">0.9</tspan><tspan x="43.75">0.9</tspan><tspan x="61.25">1.1</tspan></text><text class="v" y="28"><tspan x="8.75">1.0</tspan><tspan x="26.25">1.1</tspan><tspan x="43.75">1.5</tspan><tspan x="61.25">1.4</tspan></text>
<text class="l st" x="75" y="18">GABA</text></g>

<g id="putrescine" transform="translate(415,812)"><rect width="70" height="32" class="w"/><rect x="35" width="17.5" height="16" fill="#fbdcca"/><rect x="52.5" width="17.5" height="16" fill="#facbb1"/><rect x="17.5" y="16" width="17.5" height="16" fill="#d3e4f8"/><rect x="35" y="16" width="17.5" height="16" fill="#f1f6fc"/><rect x="52.5" y="16" width="17.5" height="16" fill="#fef1ea"/><use href="#grid"/>
<text class="v" y="12"><tspan x="8.75">1.0</tspan><tspan x="26.25">1.0</tspan><tspan x="43.75">1.6</tspan><tspan x="61.25">2.0</tspan></text><text class="v" y="28"><tspan x="8.75">1.0</tspan><tspan x="26.25">0.7</tspan><tspan x="43.75">0.9</tspan><tspan x="61.25">1.2</tspan></text>
<text class="l" x="35" y="43">Putrescine</text></g>

<g id="hydroxyproline" transform="translate(537,812)"><rect width="70" height="32" class="w"/><rect x="35" width="17.5" height="16" fill="#f49862"/><rect x="52.5" width="17.5" height="16" fill="#ef6414"/><rect y="16" width="35" height="16" fill="#000"/><rect x="35" y="16" width="35" height="16" fill="#f2b705"/><use href="#grid"/>
<text class="v" y="12"><tspan x="8.75">1.0</tspan><tspan x="26.25">1.0</tspan><tspan x="43.75">4.0</tspan><tspan x="61.25">11</tspan></text><text class="v" y="28"><tspan x="8.75" style="fill:#fff">nd</tspan><tspan x="26.25" style="fill:#fff">nd</tspan><tspan x="43.75">1.0</tspan><tspan x="61.25">4.0</tspan></text>
<text class="l" x="35" y="43">4-Hydroxy-proline</text></g>

<g id="pyroglutamic" transform="translate(643,812)"><rect width="70" height="32" class="w"/><rect x="17.5" y="16" width="17.5" height="16" fill="#e2edfa"/><rect x="35" y="16" width="17.5" height="16" fill="#f59d6b"/><rect x="52.5" y="16" width="17.5" height="16" fill="#f2803e"/><use href="#grid"/>
<text class="v" y="12"><tspan x="8.75">na</tspan><tspan x="26.25">na</tspan><tspan x="43.75">na</tspan><tspan x="61.25">na</tspan></text><text class="v" y="28"><tspan x="8.75">1.0</tspan><tspan x="26.25">0.8</tspan><tspan x="43.75">3.7</tspan><tspan x="61.25">5.5</tspan></text>
<text class="l" x="35" y="43">Pyroglutamic acid</text></g>

<!-- legend -->
<g id="legend">
<g transform="translate(49,779)"><use href="#grid"/>
<text class="v" y="12"><tspan x="8.75">C</tspan><tspan x="26.25">F</tspan><tspan x="43.75">S</tspan><tspan x="61.25">D</tspan></text><text class="v" y="28"><tspan x="8.75">C</tspan><tspan x="26.25">F</tspan><tspan x="43.75">S</tspan><tspan x="61.25">D</tspan></text>
<text class="l e" x="-4" y="10">Shoot</text><text class="l e" x="-4" y="25">Root</text></g>
<rect x="156" y="788" width="117" height="11" fill="url(#cbar)"/>
<text class="l" x="165" y="812">0.125 (2<tspan font-size="6.5" dy="-4">-3</tspan><tspan dy="4">)</tspan></text>
<text class="l" x="214" y="812">1</text>
<text class="l" x="273" y="812">8 (2<tspan font-size="6.5" dy="-4">3</tspan><tspan dy="4">)</tspan></text>
</g>
</svg>
